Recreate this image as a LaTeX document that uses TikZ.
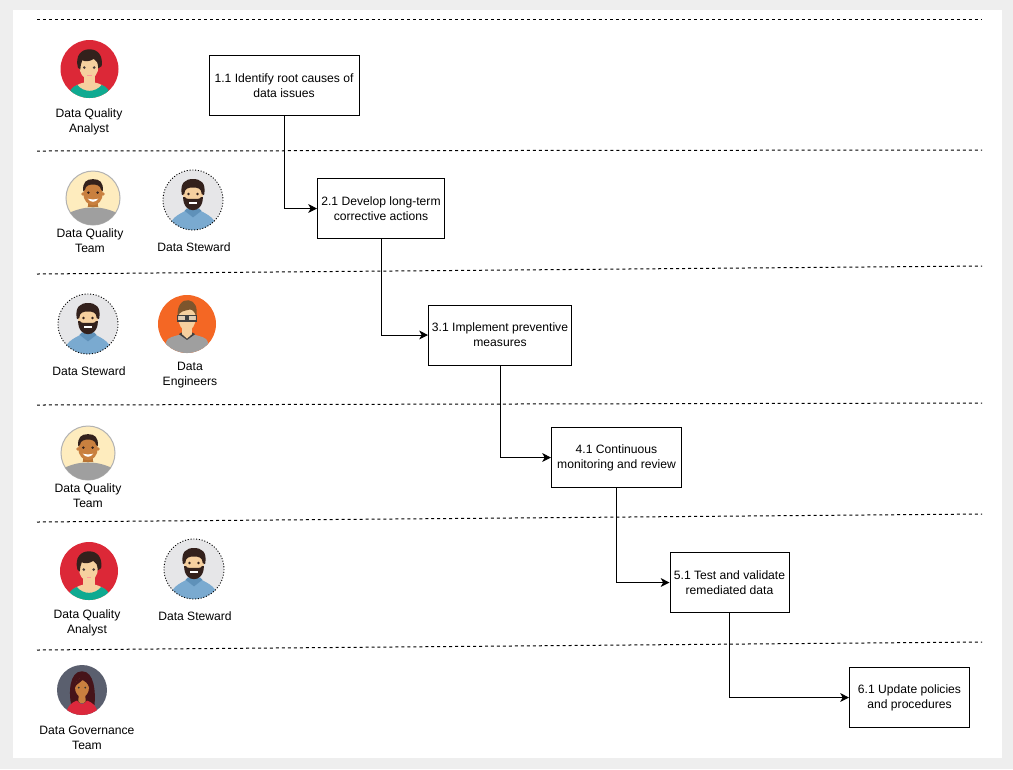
\documentclass[tikz,border=0pt]{standalone}
\usepackage{fontspec}
\setmainfont{Liberation Sans}
\usepackage{tikz}
\usetikzlibrary{arrows.meta}
\definecolor{pageGray}{HTML}{EEEEEE}
\definecolor{skinLight}{HTML}{F6D09F}
\definecolor{skinTan}{HTML}{B87434}
\definecolor{skinBrown}{HTML}{C9803F}
\definecolor{hairDark}{HTML}{33211C}
\tikzset{
  stepbox/.style 2 args={draw=black,line width=0.57pt,align=center,inner sep=0pt,
    minimum width=#1*0.02cm,minimum height=#2*0.02cm,
    font=\fontsize{6.9}{8.54}\selectfont},
  rolelabel/.style={align=center,inner sep=0pt,font=\fontsize{6.9}{8.54}\selectfont},
  laneline/.style={draw=black,line width=0.57pt,dash pattern=on 1.7pt off 1.7pt},
  flowline/.style={draw=black,line width=0.57pt,-{Stealth[length=5pt,width=5pt,inset=1.4pt]}},
}
% avatars: centre x, centre y, radius
\newcommand{\avatarAnalyst}[3]{
  \begin{scope}[shift={(#1,#2)},scale=#3]
    \fill[fill={rgb,255:red,220;green,40;blue,55}] (0,0) circle (1);
    \begin{scope}
      \clip (0,0) circle (1);
      \fill[skinLight] (-0.2,0.15) rectangle (0.2,0.6);
      \fill[skinLight] (0,0.8) ellipse (0.6 and 0.35);
      \fill[fill={rgb,255:red,15;green,170;blue,145}] (-0.72,1.05) .. controls (-0.72,0.72) and (-0.6,0.62) .. (-0.42,0.55) .. controls (-0.2,0.82) and (0.2,0.82) .. (0.42,0.55) .. controls (0.6,0.62) and (0.72,0.72) .. (0.72,1.05) -- cycle;
    \end{scope}
    \fill[skinLight] (-0.02,-0.1) ellipse (0.33 and 0.45);
    \fill[hairDark] (-0.4,-0.05) .. controls (-0.5,-0.45) and (-0.3,-0.68) .. (0,-0.68) .. controls (0.3,-0.68) and (0.47,-0.45) .. (0.42,-0.1) -- (0.3,-0.02) .. controls (0.3,-0.2) and (0.25,-0.3) .. (0.15,-0.35) .. controls (0,-0.25) and (-0.15,-0.25) .. (-0.25,-0.3) .. controls (-0.3,-0.2) and (-0.3,-0.1) .. (-0.32,0.02) -- cycle;
    \fill[hairDark!70!gray] (-0.18,-0.05) circle (0.05) (0.16,-0.05) circle (0.05);
    \fill[pink!80!red] (-0.08,0.2) rectangle (0.08,0.24);
  \end{scope}
}
\newcommand{\avatarTeam}[3]{
  \begin{scope}[shift={(#1,#2)},scale=#3]
    \fill[fill={rgb,255:red,254;green,236;blue,190},draw=black!30,line width=0.57pt] (0,0) circle (1);
    \begin{scope}
      \clip (0,0) circle (1);
      \fill[gray!75] (-1,1.05) -- (-1,0.6) .. controls (-0.6,0.42) and (-0.35,0.35) .. (0,0.35) .. controls (0.35,0.35) and (0.6,0.42) .. (1,0.6) -- (1,1.05) -- cycle;
      \fill[skinTan] (-0.2,0.1) rectangle (0.2,0.33);
      \fill[skinTan] (-0.2,0.33) arc[start angle=180,end angle=360,radius=0.2];
    \end{scope}
    \fill[skinBrown] (0,-0.17) ellipse (0.36 and 0.44);
    \fill[skinBrown] (-0.37,-0.15) circle (0.07) (0.37,-0.15) circle (0.07);
    \fill[hairDark] (-0.36,-0.25) .. controls (-0.4,-0.58) and (-0.25,-0.7) .. (0,-0.7) .. controls (0.25,-0.7) and (0.4,-0.58) .. (0.36,-0.25) -- (0.3,-0.3) .. controls (0.28,-0.48) and (0.1,-0.5) .. (0,-0.5) .. controls (-0.1,-0.5) and (-0.28,-0.48) .. (-0.3,-0.3) -- cycle;
    \fill[hairDark] (-0.17,-0.2) circle (0.05) (0.17,-0.2) circle (0.05);
    \fill[white] (-0.2,0.02) .. controls (-0.1,0.06) and (0.1,0.06) .. (0.2,0.02) .. controls (0.1,0.18) and (-0.1,0.18) .. (-0.2,0.02) -- cycle;
  \end{scope}
}
\newcommand{\avatarSteward}[3]{
  \begin{scope}[shift={(#1,#2)},scale=#3]
    \fill[fill={rgb,255:red,230;green,230;blue,232}] (0,0) circle (1);
    \begin{scope}
      \clip (0,0) circle (1);
      \fill[fill={rgb,255:red,122;green,170;blue,208}] (-0.8,1.05) .. controls (-0.8,0.6) and (-0.5,0.5) .. (-0.22,0.34) -- (0.22,0.34) .. controls (0.5,0.5) and (0.8,0.6) .. (0.8,1.05) -- cycle;
      \fill[fill={rgb,255:red,95;green,145;blue,185}] (-0.28,0.36) -- (0,0.58) -- (0.28,0.36) -- (0.2,0.28) -- (-0.2,0.28) -- cycle;
    \end{scope}
    \draw[black,line width=0.5pt,dash pattern=on 0.6pt off 1pt] (0,0) circle (1);
    \begin{scope}[shift={(0,-0.08)}]
      \fill[skinLight] (0,-0.08) ellipse (0.33 and 0.42);
      \fill[hairDark] (-0.37,-0.08) .. controls (-0.45,-0.5) and (-0.25,-0.62) .. (0,-0.62) .. controls (0.25,-0.62) and (0.45,-0.5) .. (0.37,-0.08) -- (0.29,-0.12) .. controls (0.29,-0.3) and (0.15,-0.35) .. (0,-0.33) .. controls (-0.15,-0.35) and (-0.29,-0.3) .. (-0.29,-0.12) -- cycle;
      \fill[hairDark] (-0.33,-0.02) .. controls (-0.33,0.3) and (-0.15,0.42) .. (0,0.42) .. controls (0.15,0.42) and (0.33,0.3) .. (0.33,-0.02) -- (0.27,-0.02) .. controls (0.24,0.06) and (0.12,0.04) .. (0,0.04) .. controls (-0.12,0.04) and (-0.24,0.06) .. (-0.27,-0.02) -- cycle;
      \fill[white] (-0.13,0.14) rectangle (0.13,0.2);
      \fill[hairDark] (-0.15,-0.12) circle (0.045) (0.15,-0.12) circle (0.045);
    \end{scope}
  \end{scope}
}
\newcommand{\avatarEngineer}[3]{
  \begin{scope}[shift={(#1,#2)},scale=#3]
    \fill[fill={rgb,255:red,244;green,103;blue,36}] (0,0) circle (1);
    \begin{scope}
      \clip (0,0) circle (1);
      \fill[gray!75] (-0.72,1.05) -- (-0.72,0.62) .. controls (-0.7,0.45) and (-0.4,0.42) .. (-0.2,0.35) -- (0.2,0.35) .. controls (0.4,0.42) and (0.7,0.45) .. (0.72,0.62) -- (0.72,1.05) -- cycle;
      \fill[gray!50!black] (-0.28,0.35) -- (0,0.55) -- (0.28,0.35) -- (0.2,0.3) -- (-0.2,0.3) -- cycle;
      \fill[skinLight] (-0.17,0.1) -- (0.17,0.1) -- (0.17,0.35) -- (0,0.5) -- (-0.17,0.35) -- cycle;
    \end{scope}
    \fill[skinLight] (0,-0.22) ellipse (0.3 and 0.46);
    \fill[fill={rgb,255:red,125;green,85;blue,45}] (-0.32,-0.25) .. controls (-0.36,-0.65) and (-0.15,-0.85) .. (0.05,-0.82) .. controls (0.28,-0.8) and (0.38,-0.55) .. (0.32,-0.25) .. controls (0.28,-0.4) and (0.2,-0.5) .. (0.1,-0.5) .. controls (-0.1,-0.45) and (-0.25,-0.45) .. (-0.32,-0.25) -- cycle;
    \draw[black!75,line width=0.8pt,fill=gray!40,fill opacity=0.5] (-0.32,-0.3) rectangle (-0.04,-0.1) (0.04,-0.3) rectangle (0.32,-0.1);
  \end{scope}
}
\newcommand{\avatarGovernance}[3]{
  \begin{scope}[shift={(#1,#2)},scale=#3]
    \fill[fill={rgb,255:red,90;green,95;blue,110}] (0,0) circle (1);
    \begin{scope}
      \clip (0,0) circle (1);
      \fill[fill={rgb,255:red,70;green,20;blue,25}] (-0.42,0.65) .. controls (-0.55,0.1) and (-0.5,-0.75) .. (0,-0.75) .. controls (0.5,-0.75) and (0.55,0.1) .. (0.5,0.6) -- (0.2,0.5) -- (-0.2,0.5) -- cycle;
      \fill[fill={rgb,255:red,220;green,40;blue,60}] (-0.65,1.05) .. controls (-0.6,0.6) and (-0.4,0.5) .. (-0.2,0.42) .. controls (-0.1,0.6) and (0.1,0.6) .. (0.2,0.42) .. controls (0.4,0.5) and (0.6,0.6) .. (0.65,1.05) -- cycle;
      \fill[skinBrown] (-0.12,0.1) -- (0.12,0.1) -- (0.15,0.45) .. controls (0.08,0.55) and (-0.08,0.55) .. (-0.15,0.45) -- cycle;
    \end{scope}
    \fill[skinBrown] (0,-0.1) ellipse (0.28 and 0.38);
    \fill[fill={rgb,255:red,70;green,20;blue,25}] (-0.3,-0.05) .. controls (-0.3,-0.4) and (-0.1,-0.5) .. (0.05,-0.5) .. controls (0.2,-0.5) and (0.32,-0.3) .. (0.3,-0.05) .. controls (0.25,-0.3) and (0.1,-0.35) .. (0.02,-0.4) .. controls (-0.05,-0.3) and (-0.25,-0.25) .. (-0.3,-0.05) -- cycle;
    \fill[black!80] (-0.13,-0.1) circle (0.04) (0.13,-0.1) circle (0.04);
  \end{scope}
}

\begin{document}
\begin{tikzpicture}[x=0.02cm,y=-0.02cm]
  \useasboundingbox (0,0) rectangle (1013,769);
  \fill[pageGray] (0,0) rectangle (1013,769);
  \fill[white] (13,10) rectangle (1002,758);

  % lanes
  \draw[laneline] (37,19) -- (982,19);
  \draw[laneline] (37,151) -- (982,150);
  \draw[laneline] (37,274) -- (982,266);
  \draw[laneline] (37,405) -- (982,403);
  \draw[laneline] (37,522) -- (982,514);
  \draw[laneline] (37,650) -- (982,642);

  % roles
  \avatarAnalyst{89.5}{69}{29}
  \avatarTeam{93}{198}{27}
  \avatarSteward{193}{200}{30}
  \avatarSteward{88}{324}{30}
  \avatarEngineer{187}{324}{29}
  \avatarTeam{88}{453}{27}
  \avatarAnalyst{89}{571}{29}
  \avatarSteward{194}{569}{30}
  \avatarGovernance{82}{690}{25}

  \node[rolelabel] (roleAnalystA) at (89,121.5){Data Quality\\Analyst};
  \node[rolelabel] (roleTeamA) at (90,241){Data Quality\\Team};
  \node[rolelabel] (roleStewardA) at (194,247){Data Steward};
  \node[rolelabel] (roleStewardB) at (89,371){Data Steward};
  \node[rolelabel] (roleEngineers) at (190,375){Data\\Engineers};
  \node[rolelabel] (roleTeamB) at (88,496){Data Quality\\Team};
  \node[rolelabel] (roleAnalystB) at (87,623){Data Quality\\Analyst};
  \node[rolelabel] (roleStewardC) at (195,616){Data Steward};
  \node[rolelabel] (roleGovernance) at (87,738){Data Governance\\Team};

  % steps
  \node[stepbox={150}{60}] (stepRoot) at (284,85.5){1.1 Identify root causes of\\data issues};
  \node[stepbox={127}{60}] (stepActions) at (381,208.5){2.1 Develop long-term\\corrective actions};
  \node[stepbox={143}{60}] (stepMeasures) at (500,335){3.1 Implement preventive\\measures};
  \node[stepbox={130}{60}] (stepMonitor) at (616.5,457.5){4.1 Continuous\\monitoring and review};
  \node[stepbox={119}{60}] (stepTest) at (729.5,582.5){5.1 Test and validate\\remediated data};
  \node[stepbox={120}{60}] (stepPolicies) at (909.5,697.5){6.1 Update policies\\and procedures};

  \draw[flowline] (stepRoot.south) |- (stepActions.west);
  \draw[flowline] (stepActions.south) |- (stepMeasures.west);
  \draw[flowline] (stepMeasures.south) |- (stepMonitor.west);
  \draw[flowline] (stepMonitor.south) |- (stepTest.west);
  \draw[flowline] (stepTest.south) |- (stepPolicies.west);
\end{tikzpicture}
\end{document}
